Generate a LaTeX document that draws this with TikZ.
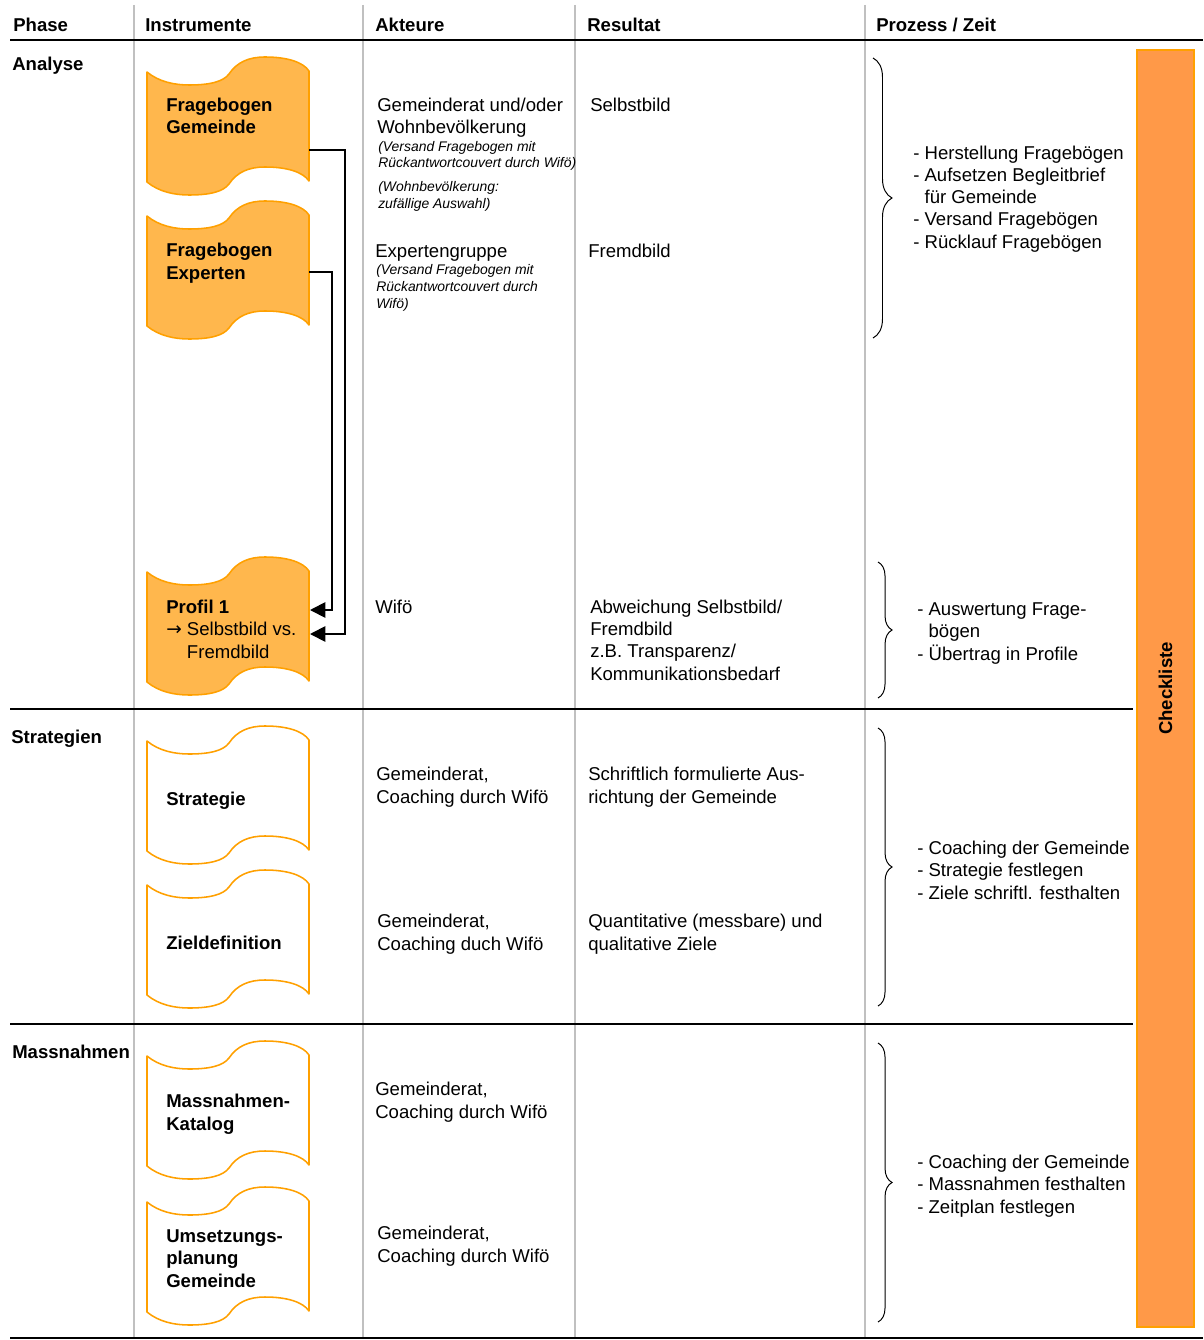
\documentclass[tikz,border=0pt]{standalone}
\usepackage{fontspec}
\setmainfont{Liberation Sans}
\newfontfamily\arrowfont{DejaVu Sans}
\usetikzlibrary{arrows.meta,decorations.pathreplacing}

\definecolor{flagfill}{RGB}{255,183,77}
\definecolor{flagline}{RGB}{255,160,0}
\definecolor{checkfill}{RGB}{255,153,72}
\definecolor{rulegray}{RGB}{192,192,192}

\newcommand\normtext{\fontsize{13.2}{15.8}\selectfont}
\newcommand\smalltext{\fontsize{9.9}{11.8}\selectfont\itshape}

\newcommand\flag[2]{%
 \draw[flag,fill=#2,shift={(147,#1)}]
 (0,0) .. controls (12,10) and (28,13) .. (42,13)
 .. controls (62,13) and (76,10) .. (82,2)
 .. controls (90,-10) and (102,-15) .. (118,-15)
 .. controls (140,-15) and (156,-10) .. (162,-1)
 -- (162,109)
 .. controls (156,100) and (140,95) .. (118,95)
 .. controls (102,95) and (90,100) .. (82,112)
 .. controls (76,120) and (62,123) .. (42,123)
 .. controls (28,123) and (12,120) .. (0,110)
 -- cycle;
}

\begin{document}
\begin{tikzpicture}[x=0.025cm,y=-0.025cm,
 txt/.style={anchor=base west,align=left,inner sep=0pt,font=\normtext},
 head/.style={txt,font=\normtext\bfseries},
 note/.style={txt,font=\smalltext},
 flag/.style={draw=flagline,line width=1.1pt,line join=round},
 link/.style={line width=1.3pt,-{Triangle[length=11pt,width=11pt]}},
 colrule/.style={draw=rulegray,line width=1.2pt},
 cbrace/.style={decorate,decoration={brace,amplitude=#1},line width=0.7pt},
 checkbar/.style={draw=flagline,fill=checkfill,line width=1pt,font=\normtext\bfseries}]
 \useasboundingbox (0,0) rectangle (1203,1340);

 \draw[colrule] (134,5) -- (134,1338);
 \draw[colrule] (363,5) -- (363,1338);
 \draw[colrule] (575,5) -- (575,1338);
 \draw[colrule] (865,5) -- (865,1338);
 \draw[line width=1.3pt] (10,40) -- (1203,40);
 \draw[line width=1pt] (10,709) -- (1133,709);
 \draw[line width=1pt] (10,1024) -- (1133,1024);
 \draw[line width=1.3pt] (10,1338) -- (1203,1338);

 \node[head] (hPhase) at (13,32) {Phase};
 \node[head] (hInstr) at (145,32) {Instrumente};
 \node[head] (hAkteure) at (375,32) {Akteure};
 \node[head] (hResultat) at (587,32) {Resultat};
 \node[head] (hProzess) at (876,32) {Prozess / Zeit};

 \node[head] (phAnalyse) at (12,71) {Analyse};
 \node[head] (phStrat) at (11,743) {Strategien};
 \node[head] (phMass) at (12,1058) {Massnahmen};

 \flag{72}{flagfill}
 \node[head] (fbGem) at (166,134) {Fragebogen\\Gemeinde};
 \flag{216}{flagfill}
 \node[head] (fbExp) at (166,279) {Fragebogen\\Experten};
 \flag{572}{flagfill}
 \node[txt] (profil) at (166,658) {\textbf{Profil 1}\\{\arrowfont →} Selbstbild vs.\\\hphantom{{\arrowfont →} }Fremdbild};
 \flag{741}{white}
 \node[head] (strat) at (166,805) {Strategie};
 \flag{885}{white}
 \node[head] (ziel) at (166,949) {Zieldefinition};
 \flag{1056}{white}
 \node[head] (massKat) at (166,1130) {Massnahmen-\\Katalog};
 \flag{1202}{white}
 \node[head] (umsetz) at (166,1287) {Umsetzungs-\\planung\\Gemeinde};

 \coordinate (gemOut) at (309,150);
 \coordinate (expOut) at (309,272);
 \coordinate (profInA) at (310,610);
 \coordinate (profInB) at (310,634);
 \draw[link] (gemOut) -- ++(36,0) |- (profInB);
 \draw[link] (expOut) -- ++(23,0) |- (profInA);

 \node[txt] (akGem) at (377,134) {Gemeinderat und/oder\\Wohnbevölkerung};
 \node[note] (akGemA) at (378,168) {(Versand Fragebogen mit\\Rückantwortcouvert durch Wifö)};
 \node[note] (akGemB) at (378,208) {(Wohnbevölkerung:\\zufällige Auswahl)};
 \node[txt] (akExp) at (375,257) {Expertengruppe};
 \node[note] (akExpA) at (376,308) {(Versand Fragebogen mit\\Rückantwortcouvert durch\\Wifö)};
 \node[txt] (akWifo) at (375,613) {Wifö};
 \node[txt] (akStrat) at (376,803) {Gemeinderat,\\Coaching durch Wifö};
 \node[txt] (akZiel) at (377,950) {Gemeinderat,\\Coaching duch Wifö};
 \node[txt] (akMass) at (375,1118) {Gemeinderat,\\Coaching durch Wifö};
 \node[txt] (akUms) at (377,1262) {Gemeinderat,\\Coaching durch Wifö};

 \node[txt] (resSelbst) at (590,112) {Selbstbild};
 \node[txt] (resFremd) at (588,257) {Fremdbild};
 \node[txt] (resProfil) at (590,680) {Abweichung Selbstbild/\\Fremdbild\\z.B. Transparenz/\\Kommunikationsbedarf};
 \node[txt] (resStrat) at (588,803) {Schriftlich formulierte Aus-\\richtung der Gemeinde};
 \node[txt] (resZiel) at (588,950) {Quantitative (messbare) und\\qualitative Ziele};

 \draw[cbrace=13.5pt] (873,58) -- (873,338);
 \draw[cbrace=10pt] (878,562) -- (878,698);
 \draw[cbrace=10pt] (878,728) -- (878,1006);
 \draw[cbrace=10pt] (878,1043) -- (878,1322);

 \node[txt] (przFrage) at (913,248) {- Herstellung Fragebögen\\- Aufsetzen Begleitbrief\\\hphantom{- }für Gemeinde\\- Versand Fragebögen\\- Rücklauf Fragebögen};
 \node[txt] (przAusw) at (917,660) {- Auswertung Frage-\\\hphantom{- }bögen\\- Übertrag in Profile};
 \node[txt] (przStrat) at (917,899) {- Coaching der Gemeinde\\- Strategie festlegen\\- Ziele schriftl. festhalten};
 \node[txt] (przMass) at (917,1213) {- Coaching der Gemeinde\\- Massnahmen festhalten\\- Zeitplan festlegen};

 \node[checkbar,rotate=90,minimum width=31.925cm,minimum height=1.425cm] (check) at (1165.5,688.5) {Checkliste};
\end{tikzpicture}
\end{document}
